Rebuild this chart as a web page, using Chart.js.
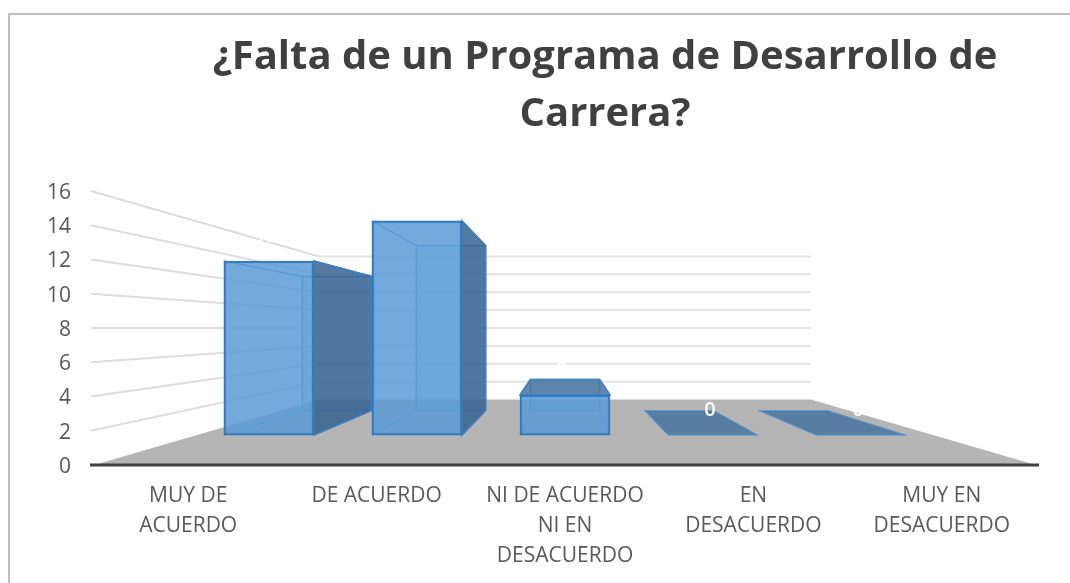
<!DOCTYPE html>
<html><head><meta charset="utf-8">
<script src="https://cdn.jsdelivr.net/npm/chart.js@4"></script>
<style>
html,body{margin:0;padding:0;background:#fff}
#wrap{position:relative;width:1070px;height:583px;overflow:hidden}
#frame{position:absolute;left:8px;top:13px;right:-5px;bottom:-5px;border:2px solid #bfbfbf}
canvas{position:absolute;left:0;top:0}
</style></head><body>
<div id="wrap"><div id="frame"></div><canvas id="c" width="1070" height="583"></canvas></div>
<script>
const titleLines = ['¿Falta de un Programa de Desarrollo de', 'Carrera?'];
const categories = [['MUY DE','ACUERDO'],'DE ACUERDO',['NI DE ACUERDO','NI EN','DESACUERDO'],['EN','DESACUERDO'],['MUY EN','DESACUERDO']];
const values = [13, 16, 3, 0, 0];
const yTicks = [0, 2, 4, 6, 8, 10, 12, 14, 16];

const FRONT_X = 0.786, FRONT_Y = 0.782, BAR_DEPTH = 0.77, FLOOR_BACK = 0.522;
const FONT = '"Open Sans"';

const scene = {
  id: 'scene',
  afterLayout(chart) {
    chart.titleBlock.left = 140; chart.titleBlock.right = 1070;
  },
  beforeDatasetsDraw(chart) {
    const {ctx, chartArea: a, scales} = chart;
    const vx = (a.left + a.right) / 2, vy = scales.y.getPixelForValue(8);
    const proj = (x, y, k) => [vx + k * (x - vx), vy + k * (y - vy)];
    const poly = (pts, fill, stroke, w) => {
      ctx.beginPath();
      pts.forEach((p, i) => i ? ctx.lineTo(p[0], p[1]) : ctx.moveTo(p[0], p[1]));
      ctx.closePath();
      if (fill) { ctx.fillStyle = fill; ctx.fill(); }
      if (stroke) { ctx.strokeStyle = stroke; ctx.lineWidth = w; ctx.stroke(); }
    };
    const line = (p, q, color, w) => {
      ctx.strokeStyle = color; ctx.lineWidth = w;
      ctx.beginPath(); ctx.moveTo(p[0], p[1]); ctx.lineTo(q[0], q[1]); ctx.stroke();
    };
    ctx.save();
    // floor
    poly([[a.left, a.bottom], [a.right, a.bottom], proj(a.right, a.bottom, FLOOR_BACK), proj(a.left, a.bottom, FLOOR_BACK)], '#b5b5b5');
    // side and back gridlines
    yTicks.forEach(t => {
      if (t === 0) return;
      const y = scales.y.getPixelForValue(t);
      const bl = proj(a.left, y, FLOOR_BACK), br = proj(a.right, y, FLOOR_BACK);
      line([a.left - 3, y], bl, '#dcdcdc', 2);
      line(bl, br, '#e3e3e3', 2);
    });
    // depth faces of the bars
    const edge = '#5b9bd5', dark = 'rgba(52,96,142,0.84)', topFace = 'rgba(70,115,160,0.85)', bright = '#3f80bd';
    chart.getDatasetMeta(0).data.forEach(b => {
      const hw = b.width / 2, L = b.x - hw, R = b.x + hw, T = b.y, B = b.base;
      const ftl = [L, T], ftr = [R, T], fbl = [L, B], fbr = [R, B];
      const btl = proj(L, T, BAR_DEPTH), btr = proj(R, T, BAR_DEPTH), bbl = proj(L, B, BAR_DEPTH), bbr = proj(R, B, BAR_DEPTH);
      const h = B - T;
      if (h > 0) {
        poly([btl, btr, bbr, bbl], 'rgba(91,155,213,0.18)');
        line(btl, bbl, edge, 1.5); line(btr, bbr, edge, 1.5);
        line(btl, btr, edge, 1.5); line(bbl, bbr, edge, 1.5);
        line(ftl, btl, edge, 1.5); line(fbl, bbl, edge, 1.5);
        line(fbr, bbr, edge, 1.5); line(ftr, btr, edge, 1.5);
      }
      if (R < vx && h > 0) poly([ftr, btr, bbr, fbr], dark, bright, 1.5);
      if (T > vy) poly([ftl, ftr, btr, btl], topFace, h > 0 ? bright : edge, h > 0 ? 1.5 : 1);
    });
    ctx.restore();
  },
  afterDatasetsDraw(chart) {
    const {ctx, chartArea: a} = chart;
    ctx.save();
    ctx.strokeStyle = '#404040'; ctx.lineWidth = 3;
    ctx.beginPath(); ctx.moveTo(a.left - 4, a.bottom); ctx.lineTo(a.right + 3, a.bottom); ctx.stroke();
    ctx.fillStyle = '#fff'; ctx.font = '600 20px ' + FONT;
    ctx.textAlign = 'center'; ctx.textBaseline = 'middle';
    chart.getDatasetMeta(0).data.forEach((b, i) => {
      ctx.fillText(String(values[i]), b.x - 3, b.y - 25);
    });
    ctx.restore();
  }
};

new Chart(document.getElementById('c'), {
  type: 'bar',
  plugins: [scene],
  data: {
    datasets: [{
      label: 'Respuestas',
      data: values.map((y, x) => ({x, y})),
      xAxisID: 'x2', yAxisID: 'y2',
      backgroundColor: 'rgba(91,155,213,0.85)',
      borderColor: '#3079ba', borderWidth: 2, borderSkipped: false,
      barThickness: 90
    }]
  },
  options: {
    responsive: false, animation: false, devicePixelRatio: 1,
    layout: {padding: {left: 0, right: 34, top: 0, bottom: 0}},
    plugins: {
      legend: {display: false}, tooltip: {enabled: false},
      title: {
        display: true, text: titleLines, color: '#404040',
        font: {family: FONT, size: 40, weight: 'bold', lineHeight: 1.425},
        padding: {top: 29, bottom: 48}
      }
    },
    scales: {
      x: {
        type: 'category', labels: categories, offset: true,
        grid: {display: false, drawTicks: false}, border: {display: false},
        ticks: {color: '#595959', font: {family: FONT, size: 21, lineHeight: 1.43}, padding: 16, maxRotation: 0, autoSkip: false},
        afterFit(s) { s.height = 118; }
      },
      y: {
        type: 'linear', min: 0, max: 16,
        grid: {display: false, drawTicks: false}, border: {display: false},
        ticks: {color: '#595959', stepSize: 2, font: {family: FONT, size: 21}, padding: 23, labelOffset: 2},
        afterFit(s) { s.width = 94; }
      },
      x2: {type: 'linear', display: false, offset: false, min: 2 - 2.5 / FRONT_X, max: 2 + 2.5 / FRONT_X},
      y2: {type: 'linear', display: false, min: 8 - 8 / FRONT_Y, max: 8 + 8 / FRONT_Y}
    }
  }
});
</script>
</body></html>
